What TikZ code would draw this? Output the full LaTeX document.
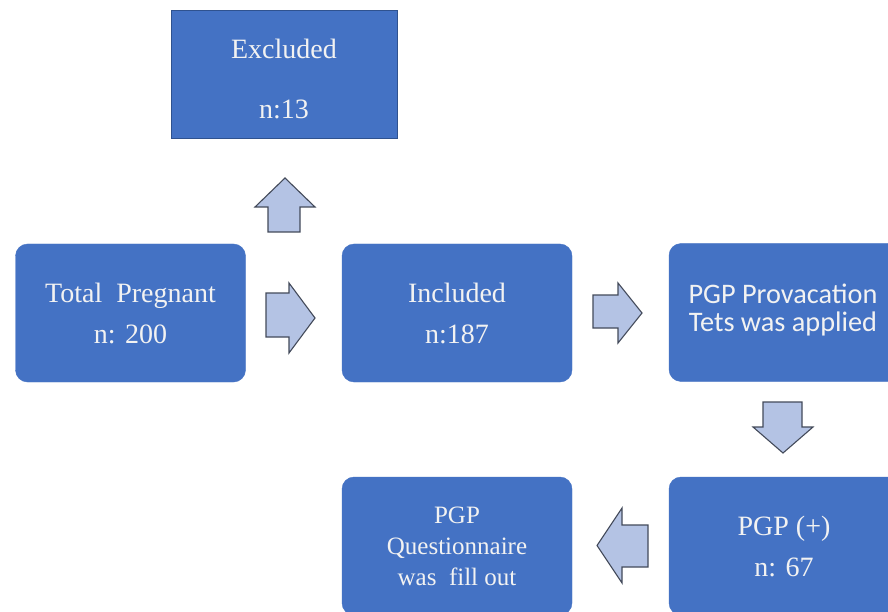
\documentclass[tikz,border=0pt]{standalone}
\usepackage{fontspec}
\setmainfont{Liberation Serif}
\newfontfamily\calibri{Carlito}
\definecolor{boxblue}{HTML}{4472C4}
\definecolor{boxedge}{HTML}{2F528F}
\definecolor{arrfill}{HTML}{B4C3E4}
\definecolor{arredge}{HTML}{434A5A}
\definecolor{txt}{HTML}{F2F2F2}
\tikzset{
  flowbox/.style={fill=boxblue, draw=boxblue, rounded corners=12pt, minimum width=230pt, minimum height=138pt, inner sep=0pt, text=txt, align=center, font=\fontsize{28}{41}\selectfont},
  exclbox/.style={fill=boxblue, draw=boxedge, line width=0.8pt, minimum width=226pt, minimum height=128pt, inner sep=0pt},
  blockarrow/.style={fill=arrfill, draw=arredge, line width=1.1pt, line join=miter}
}
\begin{document}
\begin{tikzpicture}[x=1pt,y=-1pt]
\useasboundingbox (0,0) rectangle (888,612);
\clip (0,0) rectangle (888,612);
\fill[white] (0,0) rectangle (888,612);
\node[exclbox] (excl) at (284,74) {};
\node[text=txt, align=center, inner sep=0pt, font=\fontsize{28}{41}\selectfont] (excltext) at (284,79) {Excluded\\[19pt]n:13};
\node[flowbox] (total) at (130.5,313) {Total\ \ Pregnant\\n: 200};
\node[flowbox] (incl) at (457,313) {Included\\n:187};
\node[flowbox] (prov) at (784,312.5) {};
\node[text=txt, align=center, inner sep=0pt, font=\calibri\fontsize{28.3}{28.5}\selectfont] (provtext) at (783,310) {PGP Provacation\\Tets was applied};
\node[flowbox] (pos) at (784,546) {PGP (+)\\n: 67};
\node[flowbox, font=\fontsize{25}{31}\selectfont] (quest) at (457,546) {PGP\\Questionnaire\\was\ \ fill out};
% up arrow (total -> excl)
\draw[blockarrow] (268,232) -- (268,207) -- (255,207) -- (285,178) -- (315,207) -- (300,207) -- (300,232) -- cycle;
% right arrow (total -> incl)
\draw[blockarrow] (266,293) -- (289,293) -- (289,283) -- (315,318) -- (289,353) -- (289,337) -- (266,337) -- cycle;
% right arrow (incl -> prov)
\draw[blockarrow] (593,295) -- (618,295) -- (618,283) -- (642,313) -- (618,343) -- (618,328) -- (593,328) -- cycle;
% down arrow (prov -> pos)
\draw[blockarrow] (763,402) -- (802,402) -- (802,427) -- (813,427) -- (783,453) -- (753,427) -- (763,427) -- cycle;
% left arrow (pos -> quest)
\draw[blockarrow] (648,525) -- (622,525) -- (622,508) -- (597,545.5) -- (622,583) -- (622,567) -- (648,567) -- cycle;
\end{tikzpicture}
\end{document}
